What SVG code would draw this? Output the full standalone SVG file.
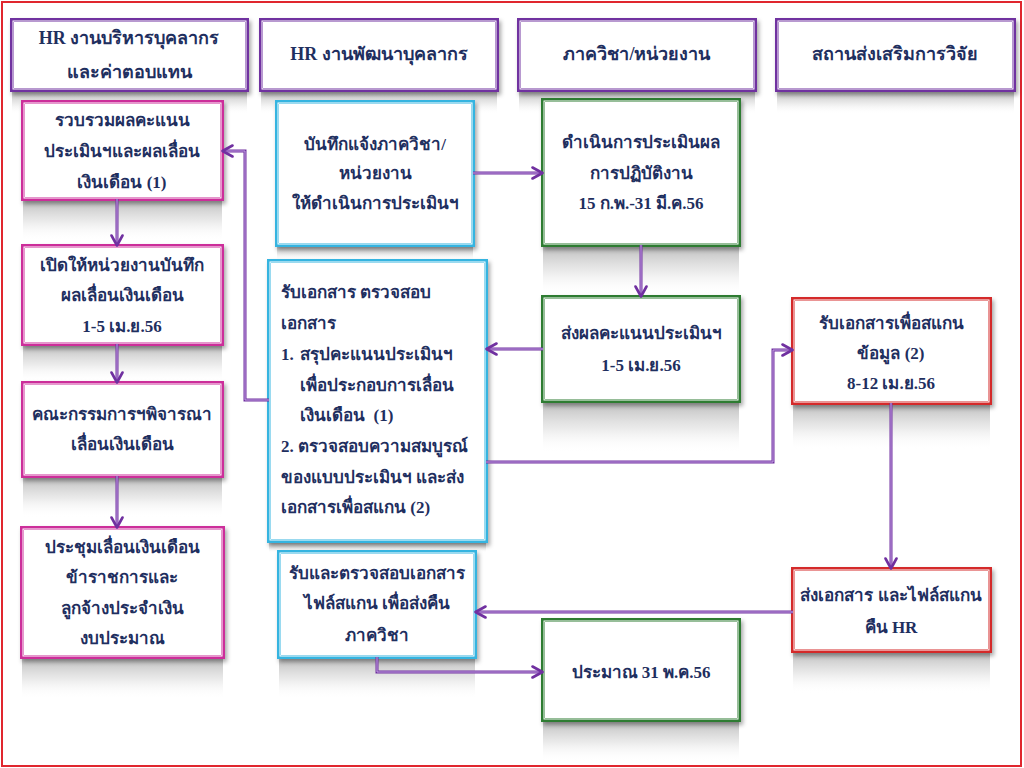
<svg xmlns="http://www.w3.org/2000/svg" width="1024" height="768" viewBox="0 0 1024 768">
<defs>
<linearGradient id="refl" x1="0" y1="0" x2="0" y2="1">
<stop offset="0" stop-color="#a8a8a8" stop-opacity="0.75"/>
<stop offset="0.5" stop-color="#d0d0d0" stop-opacity="0.45"/>
<stop offset="1" stop-color="#ffffff" stop-opacity="0"/>
</linearGradient>
<filter id="sh" x="-10%" y="-10%" width="125%" height="130%">
<feDropShadow dx="2" dy="3" stdDeviation="2" flood-color="#000" flood-opacity="0.35"/>
</filter>
<marker id="ah" viewBox="0 0 14 14" refX="12.5" refY="7" markerWidth="14" markerHeight="14" markerUnits="userSpaceOnUse" orient="auto">
<path d="M2,1.5 L12,7 L2,12.5" fill="none" stroke="#7030A0" stroke-width="2.6" stroke-linecap="round" stroke-linejoin="round"/>
</marker>
<style>
text{font-family:"Liberation Serif","Noto Sans",serif;font-weight:bold;fill:#1F2F5F;font-size:17px;text-anchor:middle;dominant-baseline:central}
text.l{text-anchor:start}
text.h{font-size:18px}
.b{fill:#fff;stroke-width:4;filter:url(#sh)}
.i{fill:none;stroke:#fff;stroke-width:1}
.hd{stroke:#7030A0}
.mg{stroke:#CC2E9A}
.cy{stroke:#35B4E0}
.gr{stroke:#2E7B32}
.rd{stroke:#D42A2A}
.ln{fill:none;stroke:#7030A0;stroke-width:3}
.lo{fill:none;stroke:#C7A6E6;stroke-width:1;marker-end:url(#ah)}
</style>
</defs>
<rect x="0" y="0" width="1024" height="768" fill="#fff"/>
<rect x="2" y="2" width="1019" height="764" fill="none" stroke="#E0262E" stroke-width="2"/>

<g id="hdr1">
<rect x="12" y="92" width="235" height="22" fill="url(#refl)"/>
<rect class="b hd" x="12" y="20" width="235" height="70"/>
<rect class="i" x="13" y="21" width="233" height="68"/>
<text class="h" x="129" y="38">HR งานบริหารบุคลากร</text>
<text class="h" x="129" y="72">และค่าตอบแทน</text>
</g>
<g id="hdr2">
<rect x="261" y="92" width="236" height="22" fill="url(#refl)"/>
<rect class="b hd" x="261" y="20" width="236" height="70"/>
<rect class="i" x="262" y="21" width="234" height="68"/>
<text class="h" x="379" y="54">HR งานพัฒนาบุคลากร</text>
</g>
<g id="hdr3">
<rect x="519" y="92" width="236" height="22" fill="url(#refl)"/>
<rect class="b hd" x="519" y="20" width="236" height="70"/>
<rect class="i" x="520" y="21" width="234" height="68"/>
<text class="h" x="637" y="54">ภาควิชา/หน่วยงาน</text>
</g>
<g id="hdr4">
<rect x="777" y="92" width="237" height="22" fill="url(#refl)"/>
<rect class="b hd" x="777" y="20" width="237" height="70"/>
<rect class="i" x="778" y="21" width="235" height="68"/>
<text class="h" x="895" y="54">สถานส่งเสริมการวิจัย</text>
</g>

<g id="m1">
<rect x="23" y="201" width="199" height="40" fill="url(#refl)"/>
<rect class="b mg" x="23" y="102" width="199" height="97"/>
<rect class="i" x="24" y="103" width="197" height="95"/>
<text x="122" y="120">รวบรวมผลคะแนน</text>
<text x="122" y="151">ประเมินฯและผลเลื่อน</text>
<text x="122" y="182">เงินเดือน (1)</text>
</g>
<g id="m2">
<rect x="23" y="346" width="199" height="36" fill="url(#refl)"/>
<rect class="b mg" x="23" y="246" width="199" height="98"/>
<rect class="i" x="24" y="247" width="197" height="96"/>
<text x="122" y="265">เปิดให้หน่วยงานบันทึก</text>
<text x="122" y="295">ผลเลื่อนเงินเดือน</text>
<text x="122" y="326">1-5 เม.ย.56</text>
</g>
<g id="m3">
<rect x="23" y="478" width="199" height="40" fill="url(#refl)"/>
<rect class="b mg" x="23" y="383" width="199" height="93"/>
<rect class="i" x="24" y="384" width="197" height="91"/>
<text x="122" y="414">คณะกรรมการฯพิจารณา</text>
<text x="122" y="444">เลื่อนเงินเดือน</text>
</g>
<g id="m4">
<rect x="22" y="659" width="201" height="40" fill="url(#refl)"/>
<rect class="b mg" x="22" y="528" width="201" height="129"/>
<rect class="i" x="23" y="529" width="199" height="127"/>
<text x="122" y="547">ประชุมเลื่อนเงินเดือน</text>
<text x="122" y="577">ข้าราชการและ</text>
<text x="122" y="608">ลูกจ้างประจำเงิน</text>
<text x="122" y="638">งบประมาณ</text>
</g>

<g id="c1">
<rect x="277" y="247" width="196" height="14" fill="url(#refl)"/>
<rect class="b cy" x="277" y="102" width="196" height="143"/>
<rect class="i" x="278" y="103" width="194" height="141"/>
<text x="375" y="144">บันทึกแจ้งภาควิชา/</text>
<text x="375" y="173">หน่วยงาน</text>
<text x="375" y="203">ให้ดำเนินการประเมินฯ</text>
</g>
<g id="c2">
<rect x="269" y="543" width="217" height="10" fill="url(#refl)"/>
<rect class="b cy" x="269" y="261" width="217" height="280"/>
<rect class="i" x="270" y="262" width="215" height="278"/>
<text class="l" x="281" y="292">รับเอกสาร ตรวจสอบ</text>
<text class="l" x="281" y="323">เอกสาร</text>
<text class="l" x="281" y="354">1.</text>
<text class="l" x="300" y="354">สรุปคะแนนประเมินฯ</text>
<text class="l" x="300" y="385">เพื่อประกอบการเลื่อน</text>
<text class="l" x="300" y="415">เงินเดือน&#160; (1)</text>
<text class="l" x="281" y="446">2. ตรวจสอบความสมบูรณ์</text>
<text class="l" x="281" y="477">ของแบบประเมินฯ และส่ง</text>
<text class="l" x="281" y="507">เอกสารเพื่อสแกน (2)</text>
</g>
<g id="c3">
<rect x="279" y="659" width="196" height="40" fill="url(#refl)"/>
<rect class="b cy" x="279" y="552" width="196" height="105"/>
<rect class="i" x="280" y="553" width="194" height="103"/>
<text x="377" y="573">รับและตรวจสอบเอกสาร</text>
<text x="377" y="603">ไฟล์สแกน เพื่อส่งคืน</text>
<text x="377" y="635">ภาควิชา</text>
</g>

<g id="g1">
<rect x="543" y="247" width="196" height="48" fill="url(#refl)"/>
<rect class="b gr" x="543" y="100" width="196" height="145"/>
<rect class="i" x="544" y="101" width="194" height="143"/>
<text x="641" y="142">ดำเนินการประเมินผล</text>
<text x="641" y="173">การปฏิบัติงาน</text>
<text x="641" y="203">15 ก.พ.-31 มี.ค.56</text>
</g>
<g id="g2">
<rect x="543" y="403" width="196" height="50" fill="url(#refl)"/>
<rect class="b gr" x="543" y="297" width="196" height="104"/>
<rect class="i" x="544" y="298" width="194" height="102"/>
<text x="641" y="333">ส่งผลคะแนนประเมินฯ</text>
<text x="641" y="365">1-5 เม.ย.56</text>
</g>
<g id="g3">
<rect x="543" y="722" width="196" height="40" fill="url(#refl)"/>
<rect class="b gr" x="543" y="620" width="196" height="100"/>
<rect class="i" x="544" y="621" width="194" height="98"/>
<text x="641" y="672">ประมาณ 31 พ.ค.56</text>
</g>

<g id="r1">
<rect x="793" y="405" width="197" height="45" fill="url(#refl)"/>
<rect class="b rd" x="793" y="299" width="197" height="104"/>
<rect class="i" x="794" y="300" width="195" height="102"/>
<text x="891" y="323">รับเอกสารเพื่อสแกน</text>
<text x="891" y="353">ข้อมูล (2)</text>
<text x="891" y="383">8-12 เม.ย.56</text>
</g>
<g id="r2">
<rect x="793" y="653" width="197" height="40" fill="url(#refl)"/>
<rect class="b rd" x="793" y="569" width="197" height="82"/>
<rect class="i" x="794" y="570" width="195" height="80"/>
<text x="891" y="595">ส่งเอกสาร และไฟล์สแกน</text>
<text x="891" y="627">คืน HR</text>
</g>

<g id="connectors">
<path class="ln" d="M473,173 L541,173"/>
<path class="lo" d="M473,173 L543,173"/>
<path class="ln" d="M641,245 L641,295"/>
<path class="lo" d="M641,245 L641,297"/>
<path class="ln" d="M543,349 L488,349"/>
<path class="lo" d="M543,349 L486,349"/>
<path class="ln" d="M269,400 L245,400 L245,151 L224,151"/>
<path class="lo" d="M269,400 L245,400 L245,151 L222,151"/>
<path class="ln" d="M486,462 L773,462 L773,350 L791,350"/>
<path class="lo" d="M486,462 L773,462 L773,350 L793,350"/>
<path class="ln" d="M891,403 L891,567"/>
<path class="lo" d="M891,403 L891,569"/>
<path class="ln" d="M793,612 L477,612"/>
<path class="lo" d="M793,612 L475,612"/>
<path class="ln" d="M377,657 L377,672 L541,672"/>
<path class="lo" d="M377,657 L377,672 L543,672"/>
<path class="ln" d="M117,199 L117,244"/>
<path class="lo" d="M117,199 L117,246"/>
<path class="ln" d="M117,344 L117,381"/>
<path class="lo" d="M117,344 L117,383"/>
<path class="ln" d="M117,476 L117,526"/>
<path class="lo" d="M117,476 L117,528"/>
</g>
</svg>
